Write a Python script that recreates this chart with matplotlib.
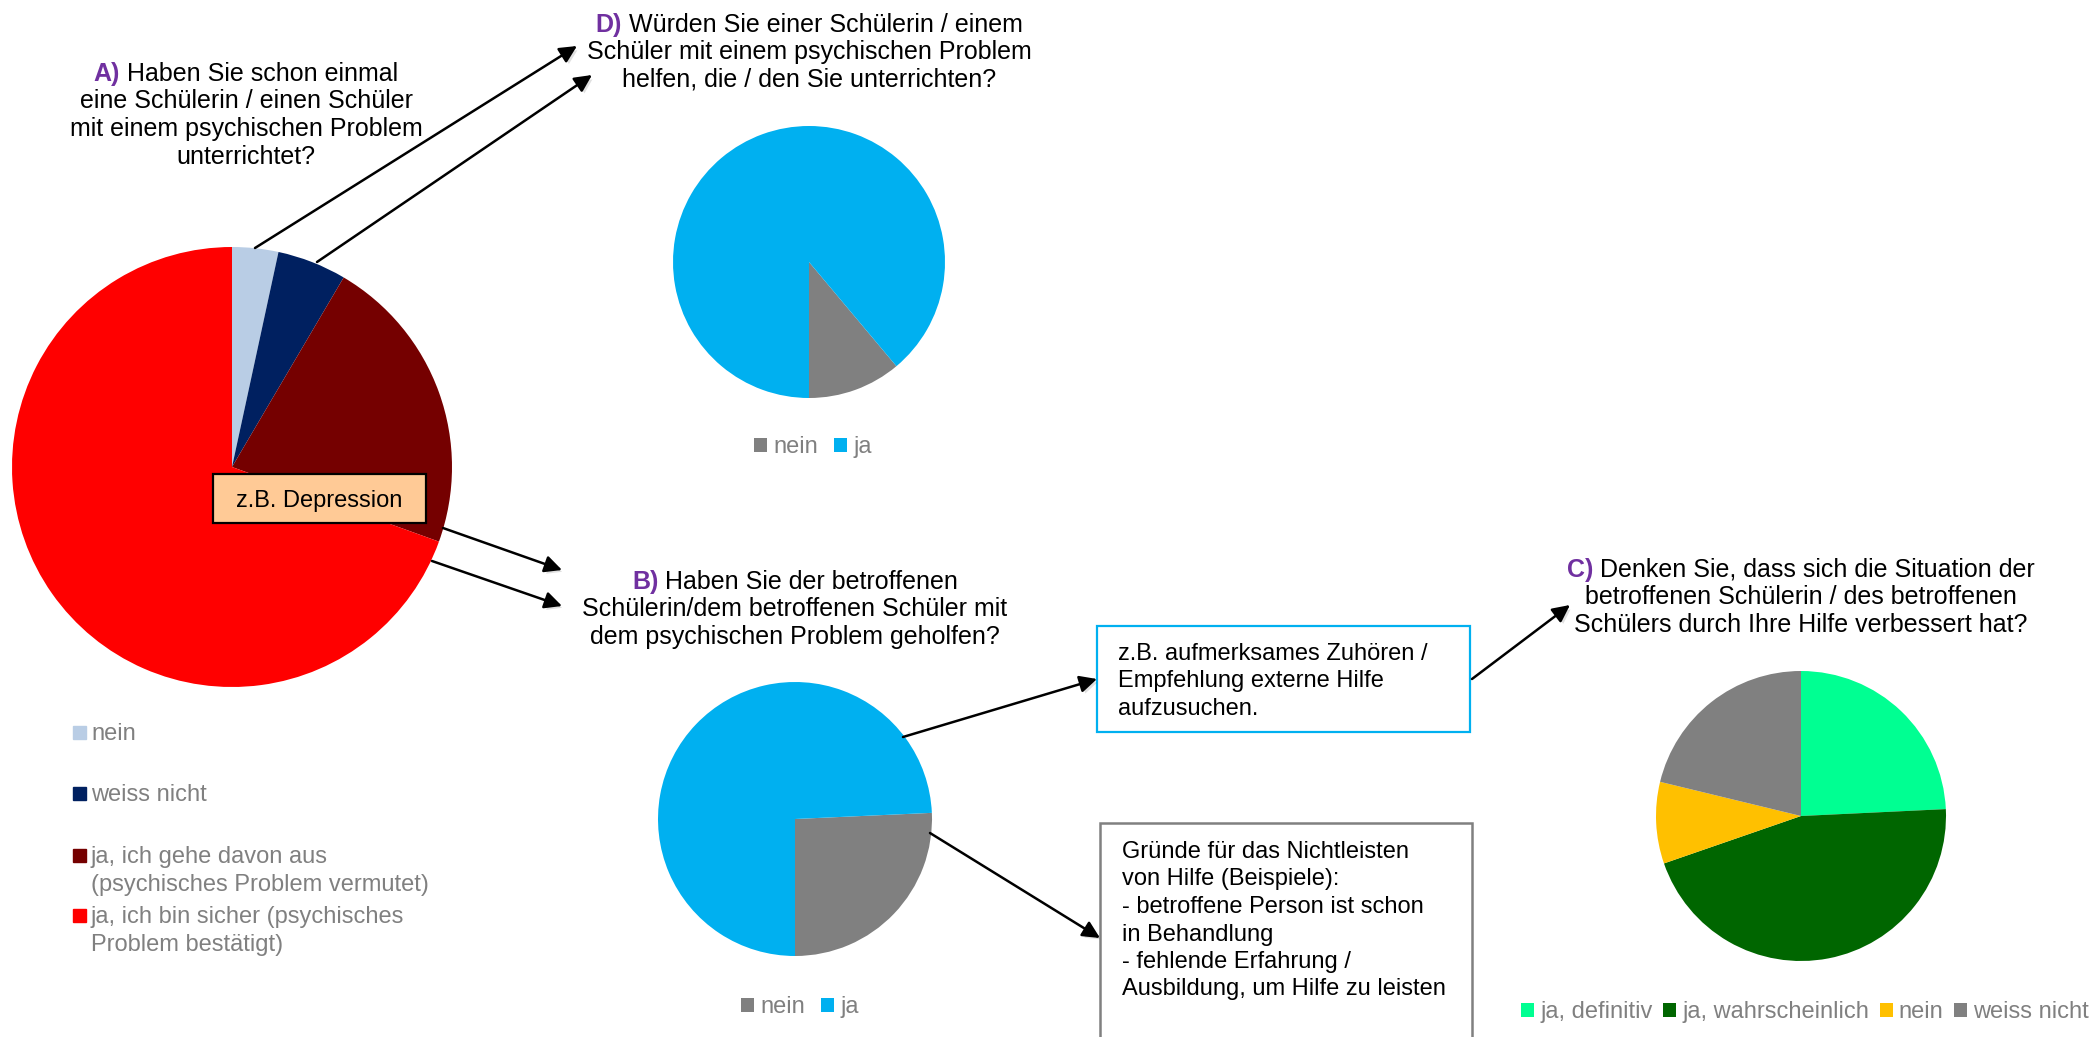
import matplotlib
matplotlib.use("Agg")
import matplotlib.pyplot as plt
from matplotlib.patches import Rectangle
import matplotlib.patheffects as pe

plt.rcParams['font.family'] = ['Liberation Sans', 'DejaVu Sans']

# -------------------------------------------------
# Data
# -------------------------------------------------
a_labels = ['nein', 'weiss nicht',
            'ja, ich gehe davon aus\n(psychisches Problem vermutet)',
            'ja, ich bin sicher (psychisches\nProblem bestätigt)']
a_counts = [2, 3, 13, 41]
a_colors = ['#B9CDE5', '#002060', '#750000', '#FF0000']

d_labels = ['nein', 'ja']
d_counts = [4, 32]
b_labels = ['nein', 'ja']
b_counts = [9, 26]
yesno_colors = ['#808080', '#00B0F0']

c_labels = ['ja, definitiv', 'ja, wahrscheinlich', 'nein', 'weiss nicht']
c_counts = [8, 15, 3, 7]
c_colors = ['#00FF92', '#006600', '#FFC000', '#808080']

q_a = ['Haben Sie schon einmal', 'eine Schülerin / einen Schüler',
       'mit einem psychischen Problem', 'unterrichtet?']
q_d = ['Würden Sie einer Schülerin / einem', 'Schüler mit einem psychischen Problem',
       'helfen, die / den Sie unterrichten?']
q_b = ['Haben Sie der betroffenen', 'Schülerin/dem betroffenen Schüler mit',
       'dem psychischen Problem geholfen?']
q_c = ['Denken Sie, dass sich die Situation der', 'betroffenen Schülerin / des betroffenen',
       'Schülers durch Ihre Hilfe verbessert hat?']

note_a = 'z.B. Depression'
note_help = ['z.B. aufmerksames Zuhören /', 'Empfehlung externe Hilfe', 'aufzusuchen.']
note_nohelp = ['Gründe für das Nichtleisten', 'von Hilfe (Beispiele):',
               '- betroffene Person ist schon', 'in Behandlung',
               '- fehlende Erfahrung /', 'Ausbildung, um Hilfe zu leisten']

PURPLE = '#7030A0'
GREY_TXT = '#808080'
W, H = 2094, 1037
LINE = 27.5

# -------------------------------------------------
# Figure + overlay axes in pixel coords (y down)
# -------------------------------------------------
fig = plt.figure(figsize=(W / 100, H / 100), dpi=100)
renderer = fig.canvas.get_renderer()


def pie_axes(cx, cy, r):
    ax = fig.add_axes([(cx - r) / W, 1 - (cy + r) / H, 2 * r / W, 2 * r / H])
    return ax


def draw_pie(ax, counts, colors, start, counterclock):
    wedges, _ = ax.pie(counts, colors=colors, startangle=start,
                       counterclock=counterclock, radius=1)
    ax.set_xlim(-1, 1)
    ax.set_ylim(-1, 1)
    ax.axis('off')
    return wedges


ax_a = pie_axes(232, 467, 220)
wa = draw_pie(ax_a, a_counts, a_colors, 90, False)

ax_d = pie_axes(809, 262, 136)
wd = draw_pie(ax_d, d_counts, yesno_colors, -90, True)

ax_b = pie_axes(795, 819, 137)
wb = draw_pie(ax_b, b_counts, yesno_colors, -90, True)

ax_c = pie_axes(1801, 816, 145)
wc = draw_pie(ax_c, c_counts, c_colors, 90, False)

leg_kw = dict(frameon=False, handlelength=0.55, handleheight=0.55,
              handletextpad=0.25, labelcolor=GREY_TXT, fontsize=17,
              loc='center', bbox_transform=fig.transFigure, borderpad=0)
ax_d.legend(wd, d_labels, ncol=2, columnspacing=0.7,
            bbox_to_anchor=(813 / W, 1 - 447 / H), **leg_kw)
ax_b.legend(wb, b_labels, ncol=2, columnspacing=0.7,
            bbox_to_anchor=(800 / W, 1 - 1007 / H), **leg_kw)
ax_c.legend(wc, c_labels, ncol=4, columnspacing=0.45,
            bbox_to_anchor=(1805 / W, 1 - 1012 / H), **leg_kw)

ov = fig.add_axes([0, 0, 1, 1], zorder=5)
ov.set_xlim(0, W)
ov.set_ylim(H, 0)
ov.axis('off')
ov.patch.set_alpha(0)


def question(xc, y0, tag, lines):
    t1 = ov.text(0, y0, tag, color=PURPLE, fontweight='bold', fontsize=18,
                 va='baseline', ha='left')
    t2 = ov.text(0, y0, lines[0], fontsize=18, va='baseline', ha='left', color='black')
    w1 = t1.get_window_extent(renderer).width
    w2 = t2.get_window_extent(renderer).width
    gap = 7
    x0 = xc - (w1 + gap + w2) / 2
    t1.set_x(x0)
    t2.set_x(x0 + w1 + gap)
    for i, line in enumerate(lines[1:], 1):
        ov.text(xc, y0 + i * LINE, line, fontsize=18, ha='center', va='baseline')


question(246, 81, 'A)', q_a)
question(809, 32, 'D)', q_d)
question(795, 589, 'B)', q_b)
question(1801, 577, 'C)', q_c)

# legend of pie A (vertical, swatch on first line)
a_base = [740, 801, 863, 923]
for lab, col, yb in zip(a_labels, a_colors, a_base):
    ov.add_patch(Rectangle((73, yb - 14), 13, 13, color=col))
    for j, part in enumerate(lab.split('\n')):
        ov.text(91, yb + j * LINE, part, fontsize=17, color=GREY_TXT, va='baseline')

# note boxes
ov.add_patch(Rectangle((213, 474), 213, 49, facecolor='#FFCA96', edgecolor='black', lw=1.6))
ov.text(319.5, 507, note_a, fontsize=17, ha='center', va='baseline')

ov.add_patch(Rectangle((1097, 626), 373, 106, facecolor='white', edgecolor='#00B0F0', lw=1.6))
for i, line in enumerate(note_help):
    ov.text(1118, 660 + i * LINE, line, fontsize=17, va='baseline')

ov.add_patch(Rectangle((1100, 823), 372, 260, facecolor='white', edgecolor='#808080', lw=1.8))
for i, line in enumerate(note_nohelp):
    ov.text(1122, 858 + i * LINE, line, fontsize=17, va='baseline')

# arrows
arrows = [((255, 248), (577, 46)), ((317, 262), (592, 75)),
          ((443, 528), (562, 570)), ((432, 561), (562, 606)),
          ((903, 737), (1097, 679)), ((930, 833), (1100, 938)),
          ((1472, 679), (1570, 605))]
for start, end in arrows:
    ov.annotate('', xy=end, xytext=start,
                arrowprops=dict(arrowstyle='-|>,head_length=0.65,head_width=0.32',
                                color='black', lw=1.8, mutation_scale=16,
                                shrinkA=0, shrinkB=0,
                                path_effects=[pe.SimplePatchShadow(offset=(2, -2), alpha=0.12),
                                              pe.Normal()]))

fig.savefig('out.png', dpi=100)
